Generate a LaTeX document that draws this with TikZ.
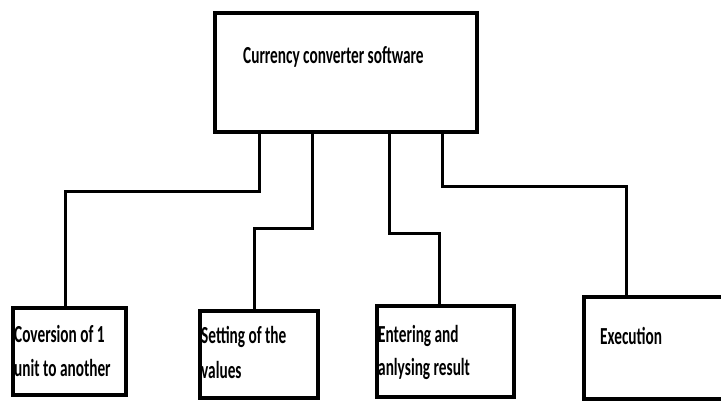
\documentclass[tikz,border=0pt]{standalone}
\usepackage{fontspec}
\usepackage{graphicx}
\setmainfont{Carlito}
\newcommand{\lbl}[1]{\scalebox{1}[1.6]{\fontsize{15.3}{18}\selectfont\bfseries #1}}
\begin{document}
\begin{tikzpicture}[x=1pt,y=-1pt,
  box/.style={draw=black, line width=3.5pt, fill=white, inner sep=0pt, rectangle},
  wire/.style={draw=black, line width=3pt},
  txt/.style={anchor=base west, inner sep=0pt, text=black}]
\useasboundingbox (0,0) rectangle (721,402);
\clip (0,0) rectangle (721,402);

% boxes
\node[box, minimum width=262pt, minimum height=119pt] (top) at (346,72.5) {};
\node[box, minimum width=113pt, minimum height=87pt]  (b1)  at (69.5,351.5) {};
\node[box, minimum width=118pt, minimum height=87pt]  (b2)  at (259,354.5) {};
\node[box, minimum width=137pt, minimum height=91pt]  (b3)  at (445.5,351.5) {};
\node[box, minimum width=160pt, minimum height=102pt] (b4)  at (664,348) {};

% elbow points of the connectors
\coordinate (a1) at (259,191); \coordinate (c1) at (65,191);
\coordinate (a2) at (312,228); \coordinate (c2) at (254,228);
\coordinate (a3) at (389,233); \coordinate (c3) at (439,233);
\coordinate (a4) at (442,186); \coordinate (c4) at (626,186);

% connectors
\draw[wire] (top.south -| a1) -- (a1) -- (c1) -- (c1 |- b1.north);
\draw[wire] (top.south -| a2) -- (a2) -- (c2) -- (c2 |- b2.north);
\draw[wire] (top.south -| a3) -- (a3) -- (c3) -- (c3 |- b3.north);
\draw[wire] (top.south -| a4) -- (a4) -- (c4) -- (c4 |- b4.north);

% labels
\node[txt] (t0)  at (243,63)  {\lbl{Currency converter software}};
\node[txt] (t1a) at (14,342)  {\lbl{Coversion of 1}};
\node[txt] (t1b) at (14,376)  {\lbl{unit to another}};
\node[txt] (t2a) at (201,343) {\lbl{Setting of the}};
\node[txt] (t2b) at (201,378) {\lbl{values}};
\node[txt] (t3a) at (378,342) {\lbl{Entering and}};
\node[txt] (t3b) at (378,375) {\lbl{anlysing result}};
\node[txt] (t4)  at (600,344) {\lbl{Execution}};
\end{tikzpicture}
\end{document}
